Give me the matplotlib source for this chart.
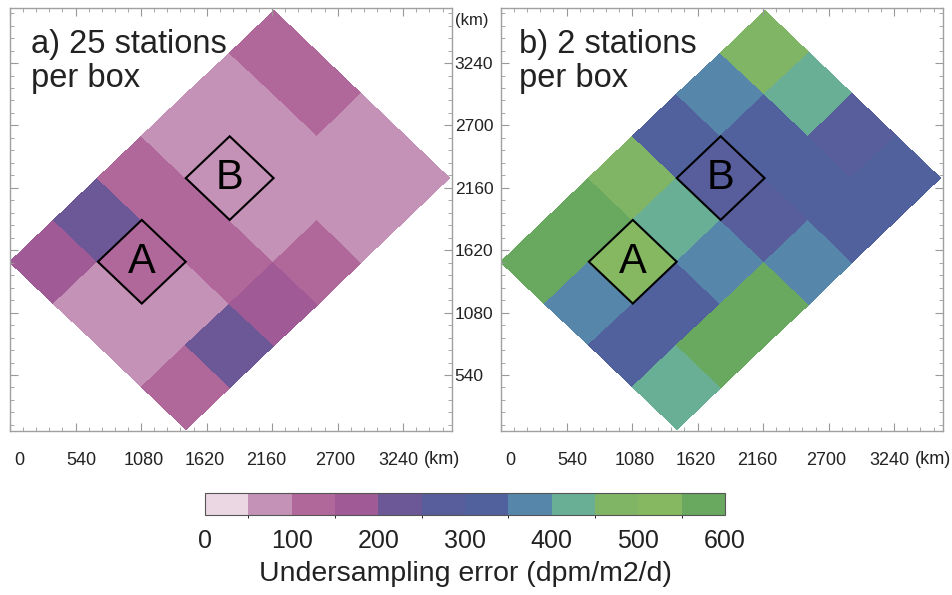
import numpy as np
import matplotlib
matplotlib.use("Agg")
import matplotlib.pyplot as plt
from matplotlib.colors import ListedColormap, BoundaryNorm
from matplotlib.patches import Polygon
from matplotlib.transforms import ScaledTranslation

plt.rcParams['font.family'] = ['Liberation Sans', 'DejaVu Sans']

# undersampling error per 512 km box, rows run along the NW-SE edge,
# columns from the SW corner towards the N corner
err_25 = [[175, 225, 125, 75, 75, 125],
          [75, 125, 125, 75, 75, 125],
          [75, 75, 125, 75, 75, 75],
          [125, 225, 175, 125, 75, 75]]
err_2 = [[575, 575, 475, 325, 375, 475],
         [375, 525, 425, 275, 325, 425],
         [325, 325, 375, 275, 325, 275],
         [425, 575, 575, 375, 325, 325]]

panel_titles = ["a) 25 stations\nper box", "b) 2 stations\nper box"]
box_names = ["A", "B"]
box_cells = [(1, 1), (3, 1)]   # (column, row) of the outlined boxes

levels = np.arange(0, 650, 50)
cbar_ticks = [0, 100, 200, 300, 400, 500, 600]
km_ticks = [0, 540, 1080, 1620, 2160, 2700, 3240]

colors = ['#ebd7e3', '#c592b7', '#b0689b', '#a05b96', '#6d5897', '#585d9b',
          '#51619e', '#5686aa', '#69af95', '#7fb565', '#86b862', '#68a95f']
cmap = ListedColormap(colors)
norm = BoundaryNorm(levels, cmap.N)

# rotated grid: SW corner and diagonal step in km
x0, y0, step = 0.0, 1520.0, 362.0
ii, jj = np.meshgrid(np.arange(7), np.arange(5))
gx = x0 + (ii + jj) * step
gy = y0 + (ii - jj) * step

def corner(i, j):
    return (x0 + (i + j) * step, y0 + (i - j) * step)

fig = plt.figure(figsize=(9.53, 5.95), dpi=100)
axes = [fig.add_axes([0.0105, 0.2756, 0.4638, 0.7109]),
        fig.add_axes([0.5257, 0.2756, 0.4638, 0.7109])]

# small horizontal nudges (points) for the km labels
label_shift = [6.5, 4, 2, -1, -4, -2, -3.5]

txt = '#222222'
for k, (ax, err) in enumerate(zip(axes, [err_25, err_2])):
    mesh = ax.pcolormesh(gx, gy, np.array(err), cmap=cmap, norm=norm,
                         edgecolors='face', linewidth=0.3)
    for name, (i, j) in zip(box_names, box_cells):
        pts = [corner(i, j), corner(i + 1, j), corner(i + 1, j + 1), corner(i, j + 1)]
        ax.add_patch(Polygon(pts, closed=True, fill=False, ec='black', lw=1.5))
        cx = np.mean([p[0] for p in pts])
        cy = np.mean([p[1] for p in pts])
        ax.text(cx, cy, name, fontsize=30, ha='center', va='center', color='black')

    ax.text(0.047 if k == 0 else 0.041, 0.95, panel_titles[k], transform=ax.transAxes,
            fontsize=23.5, va='top', ha='left', color=txt, linespacing=1.12)

    ax.set_xlim(0, 3642)
    ax.set_ylim(55, 3716)
    ax.set_xticks(km_ticks)
    ax.set_yticks(km_ticks[1:])
    ax.set_xticks(np.arange(0, 3642, 108), minor=True)
    ax.set_yticks(np.arange(108, 3716, 108), minor=True)
    ax.tick_params(which='both', direction='in', top=True, right=True,
                   left=True, bottom=True, color='#999999')
    ax.tick_params(which='major', length=6, width=0.8)
    ax.tick_params(which='minor', length=3, width=0.6)
    ax.tick_params(axis='x', labelsize=13, labelcolor=txt, pad=15)
    for lab, dx in zip(ax.get_xticklabels(), label_shift):
        lab.set_transform(lab.get_transform() + ScaledTranslation(dx / 72, 0, fig.dpi_scale_trans))
    if k == 0:
        ax.tick_params(axis='y', labelleft=False, labelright=True,
                       labelsize=12.5, labelcolor=txt, pad=2)
    else:
        ax.tick_params(axis='y', labelleft=False, labelright=False)
    for sp in ax.spines.values():
        sp.set_color('#a0a0a0')
        sp.set_linewidth(1.0)

fig.text(455 / 953, 1 - 20 / 595, "(km)", fontsize=12, color=txt, va='center', ha='left')
fig.text(442 / 953, 1 - 459 / 595, "(km)", fontsize=13, color=txt, va='center', ha='center')
fig.text(933 / 953, 1 - 459 / 595, "(km)", fontsize=13, color=txt, va='center', ha='center')

cax = fig.add_axes([0.2151, 0.1345, 0.5456, 0.037])
cb = fig.colorbar(mesh, cax=cax, orientation='horizontal', ticks=cbar_ticks)
cb.outline.set_edgecolor('#555555')
cb.outline.set_linewidth(0.8)
cax.tick_params(length=0, labelsize=18, labelcolor=txt, pad=10)
cb.set_label("Undersampling error (dpm/m2/d)", fontsize=20.5, color=txt, labelpad=6)

fig.savefig("out.png", dpi=100)
